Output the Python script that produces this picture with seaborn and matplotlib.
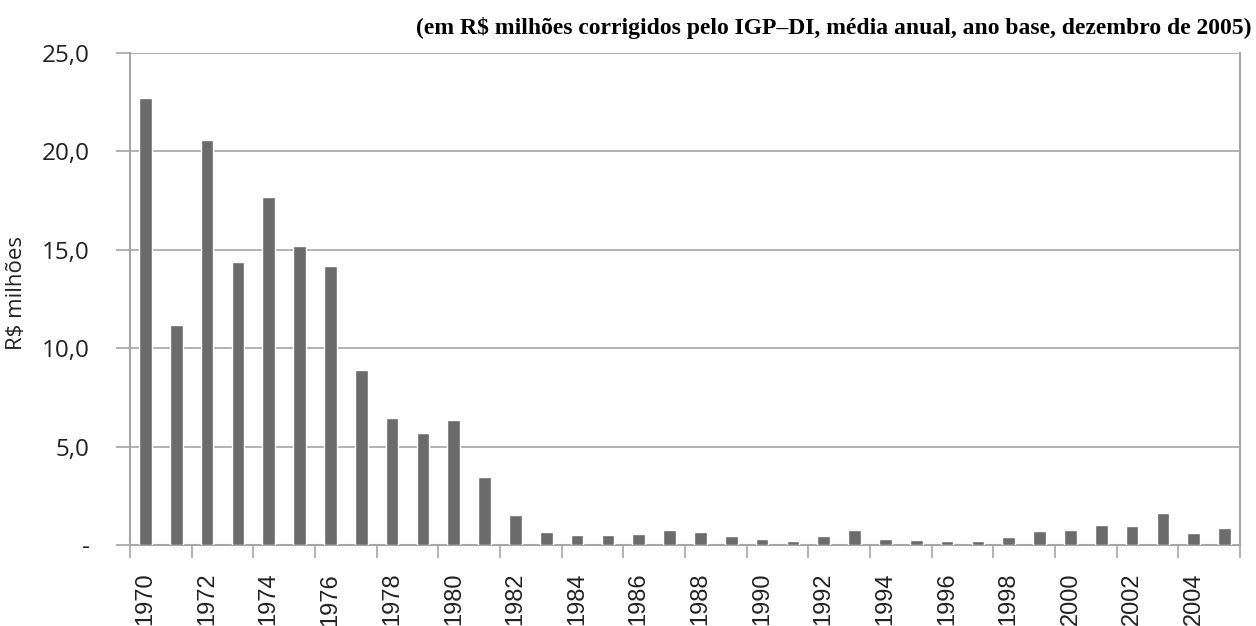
import matplotlib
matplotlib.use("Agg")
import matplotlib.pyplot as plt
import seaborn as sns
import numpy as np
import pandas as pd

years = list(range(1970, 2006))
values = [22.7, 11.2, 20.6, 14.4, 17.7, 15.2, 14.2, 8.9, 6.45, 5.7, 6.35, 3.45,
          1.5, 0.68, 0.5, 0.5, 0.56, 0.75, 0.66, 0.46, 0.32, 0.2, 0.44, 0.78,
          0.3, 0.25, 0.2, 0.2, 0.42, 0.71, 0.78, 1.02, 0.98, 1.64, 0.59, 0.85]
yticks = [0, 5, 10, 15, 20, 25]
ytick_labels = ["-", "5,0", "10,0", "15,0", "20,0", "25,0"]
title = "(em R$ milhões corrigidos pelo IGP–DI, média anual, ano base, dezembro de 2005)"
ylabel = "R$ milhões"

sns.set_theme(style="white")
df = pd.DataFrame({"ano": [str(y) for y in years], "valor": values})

fig = plt.figure(figsize=(12.56, 6.26), dpi=100)
ax = fig.add_axes([130/1256, 1 - 545/626, (1240-130)/1256, (545-53)/626])

sns.barplot(data=df, x="ano", y="valor", color="#6b6b6b", width=0.41,
            saturation=1, ax=ax, zorder=3)

gray = "#a6a6a6"
ax.set_ylim(0, 25)
ax.set_xlim(-0.5, len(years) - 0.5)
ax.set_yticks(yticks)
ax.set_yticklabels(ytick_labels, fontfamily="Open Sans", fontsize=17.5, color="#222222")
ax.yaxis.grid(True, color=gray, linewidth=1.2, zorder=0)
ax.tick_params(axis="y", length=10, width=1.2, color=gray, pad=19, left=True)

pos = np.arange(0, len(years), 2)
ax.set_xticks(pos)
ax.set_xticklabels([str(years[i]) for i in pos], rotation=90,
                   fontfamily="Liberation Sans", fontsize=17, color="#222222")
ax.tick_params(axis="x", which="major", length=0, pad=20)
ax.set_xticks(np.arange(-0.5, len(years), 2), minor=True)
ax.tick_params(axis="x", which="minor", length=9, width=1.2, color=gray, bottom=True)

for s in ["left", "right", "bottom"]:
    ax.spines[s].set_visible(True)
    ax.spines[s].set_color(gray)
    ax.spines[s].set_linewidth(1.5)
ax.spines["top"].set_visible(False)

ax.set_xlabel("")
ax.set_ylabel(ylabel, fontfamily="Open Sans", fontsize=16, color="#222222")
ax.yaxis.set_label_coords(-0.093, 0.512)

fig.text(1252/1256, 1 - 28/626, title, ha="right", va="center",
         fontfamily="Liberation Serif", fontweight="bold", fontsize=17, color="black")

fig.savefig("out.png", dpi=100, facecolor="white")
